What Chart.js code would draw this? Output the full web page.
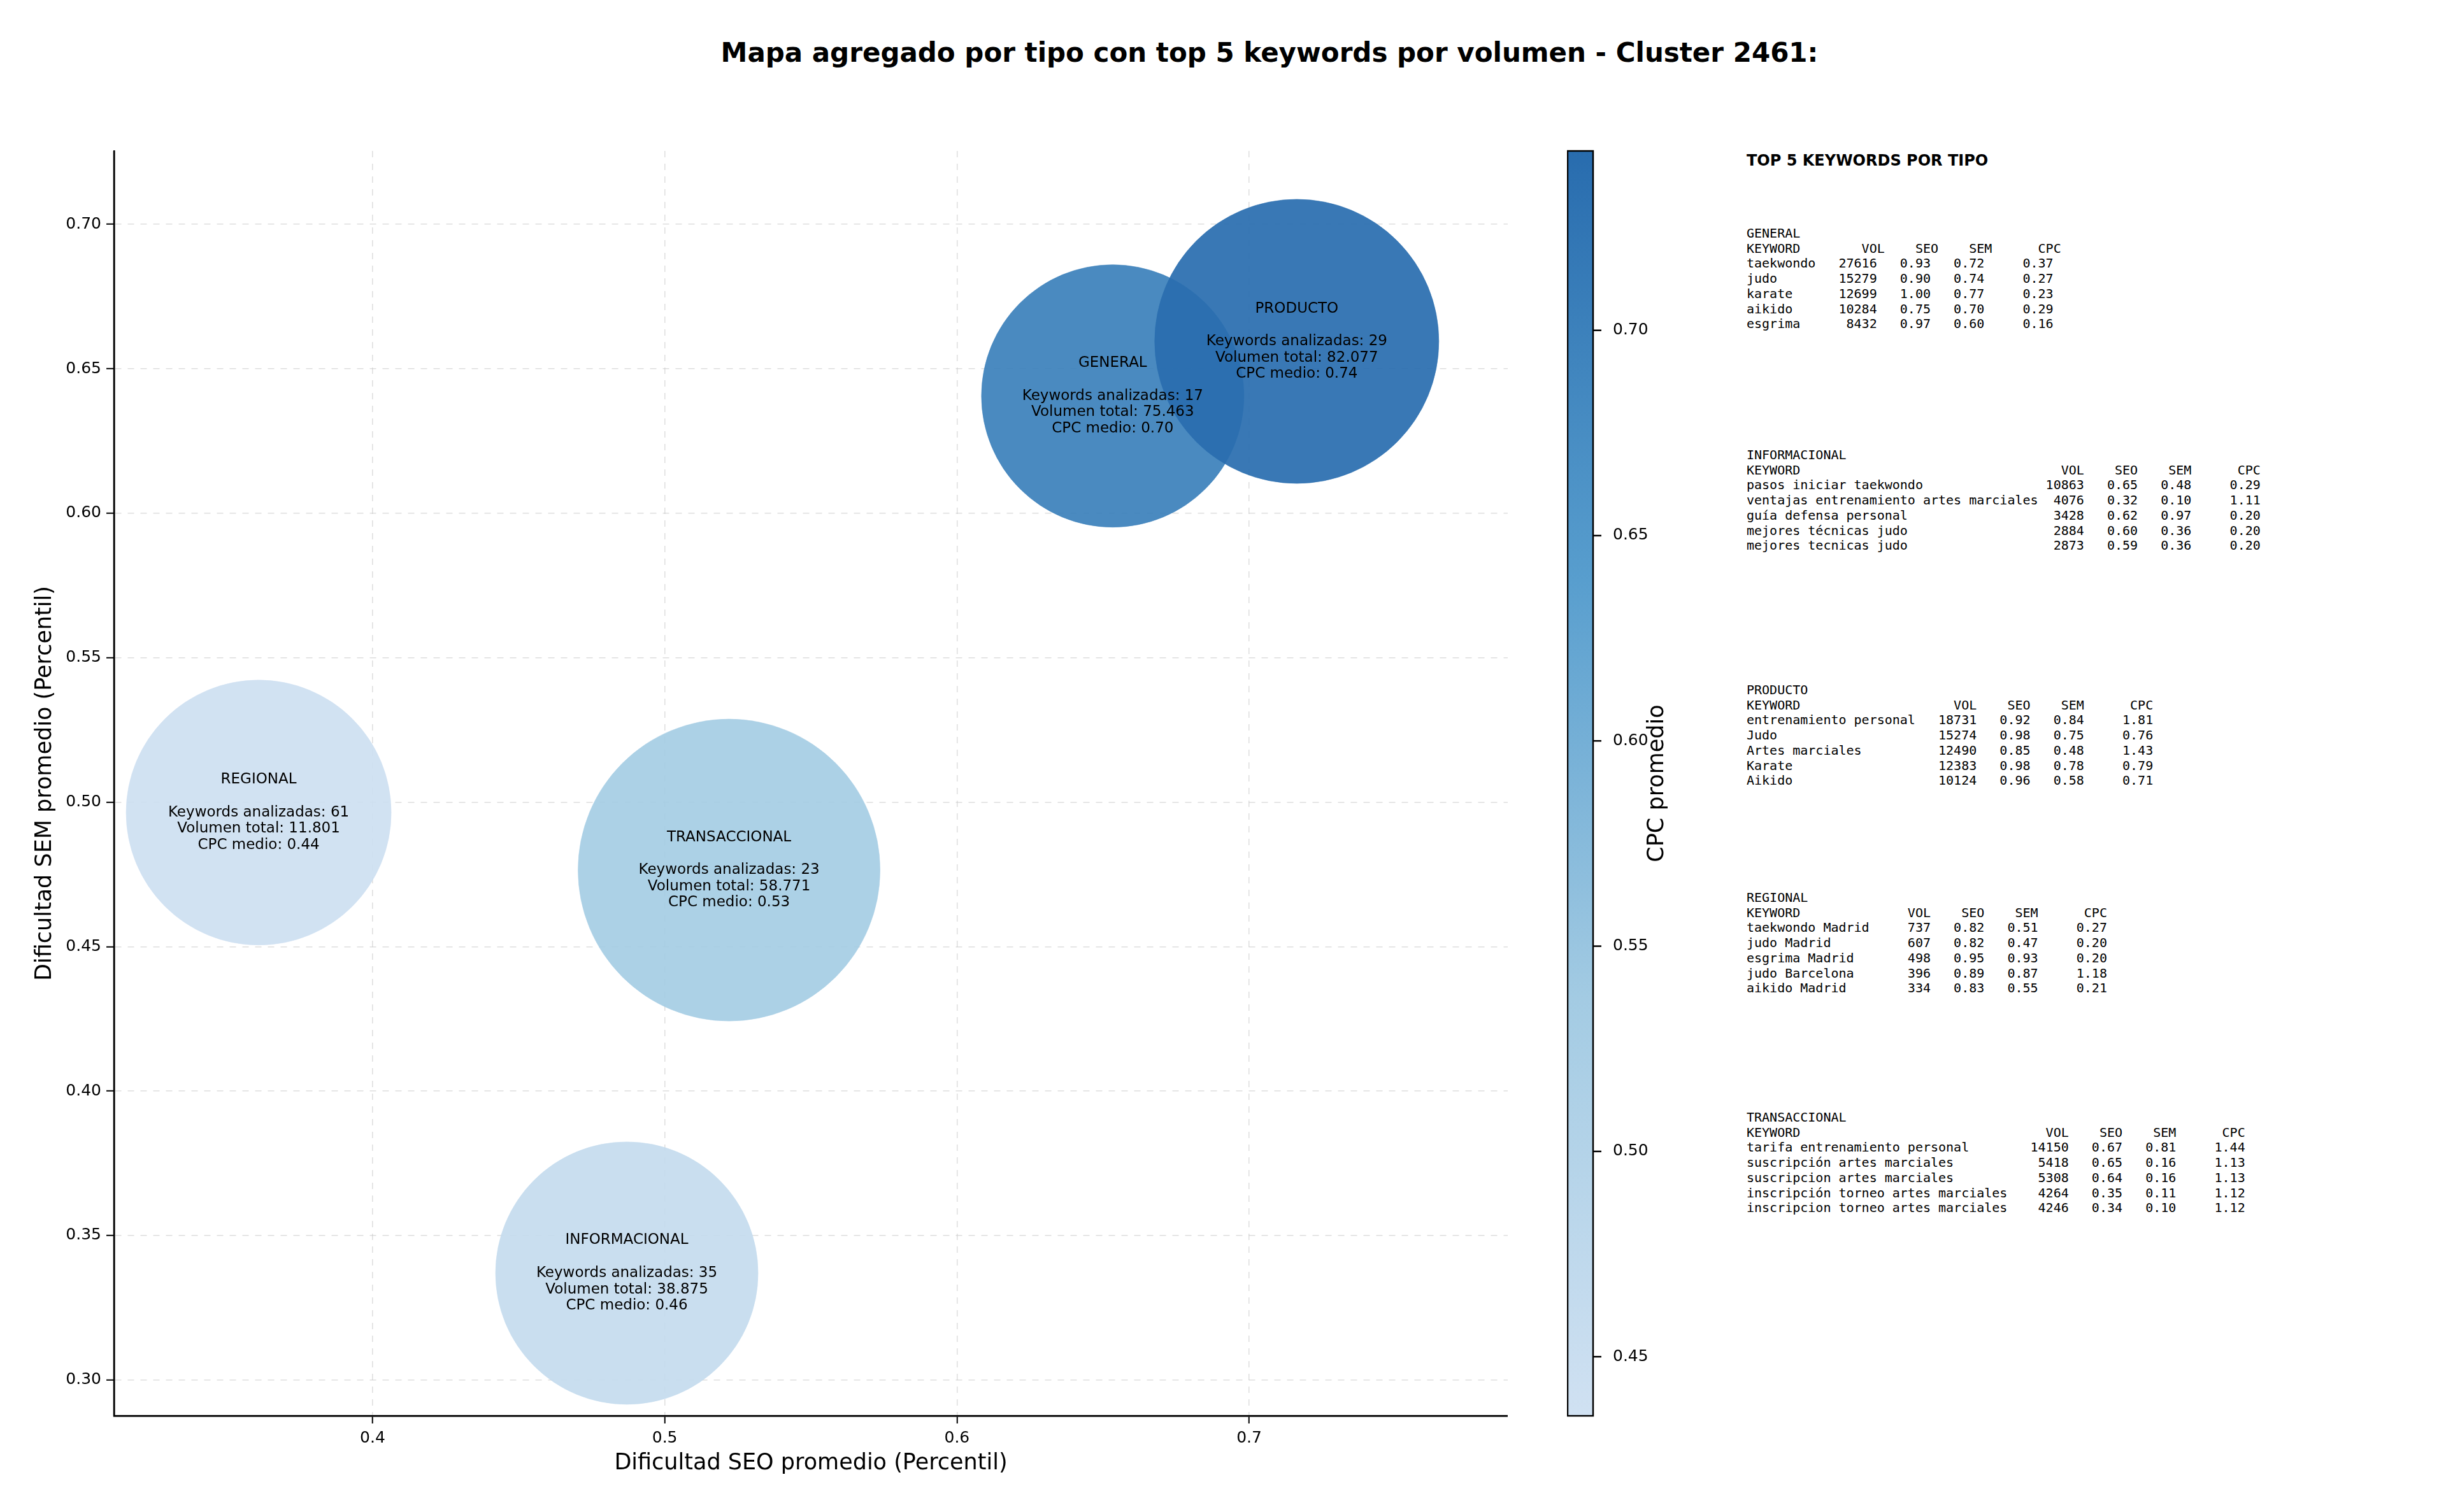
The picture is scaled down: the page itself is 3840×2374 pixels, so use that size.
<!DOCTYPE html>
<html><head><meta charset="utf-8">
<script src="https://cdn.jsdelivr.net/npm/chart.js@4"></script>
<style>
body{margin:0;width:3840px;height:2374px;background:#fff;position:relative;overflow:hidden;font-family:"DejaVu Sans",sans-serif}
#title{position:absolute;top:58px;left:0;width:3986px;text-align:center;font-weight:bold;font-size:42px;color:#000}
pre{position:absolute;margin:0;font-family:"DejaVu Sans Mono",monospace;font-size:20px;line-height:23.7px;color:#000}
#ptitle{position:absolute;left:2742px;top:238px;font-weight:bold;font-size:24px}
</style></head><body>
<div id="title">Mapa agregado por tipo con top 5 keywords por volumen - Cluster 2461:</div>
<canvas id="c1" style="position:absolute;left:0;top:0"></canvas>
<canvas id="c2" style="position:absolute;left:2460px;top:0"></canvas>
<div id="ptitle">TOP 5 KEYWORDS POR TIPO</div>
<div id="panel"></div>
<script>
const tipos=["GENERAL","PRODUCTO","REGIONAL","TRANSACCIONAL","INFORMACIONAL"];
const seo=[0.6533,0.7163,0.361,0.522,0.487];
const sem=[0.6406,0.6595,0.4964,0.4765,0.337];
const radios=[206,223,208,237,206];
const nKeywords=[17,29,61,23,35];
const volumen=["75.463","82.077","11.801","58.771","38.875"];
const cpc=[0.70,0.74,0.44,0.53,0.46];
const cpcMin=0.4356, cpcMax=0.7437;
const xTicks=[0.4,0.5,0.6,0.7];
const yTicks=[0.30,0.35,0.40,0.45,0.50,0.55,0.60,0.65,0.70];
const cbTicks=[0.45,0.50,0.55,0.60,0.65,0.70];
const panelTops=[355,703,1072,1398,1743];
const panelText=[
`GENERAL
KEYWORD        VOL    SEO    SEM      CPC
taekwondo   27616   0.93   0.72     0.37
judo        15279   0.90   0.74     0.27
karate      12699   1.00   0.77     0.23
aikido      10284   0.75   0.70     0.29
esgrima      8432   0.97   0.60     0.16`,
`INFORMACIONAL
KEYWORD                                  VOL    SEO    SEM      CPC
pasos iniciar taekwondo                10863   0.65   0.48     0.29
ventajas entrenamiento artes marciales  4076   0.32   0.10     1.11
guía defensa personal                   3428   0.62   0.97     0.20
mejores técnicas judo                   2884   0.60   0.36     0.20
mejores tecnicas judo                   2873   0.59   0.36     0.20`,
`PRODUCTO
KEYWORD                    VOL    SEO    SEM      CPC
entrenamiento personal   18731   0.92   0.84     1.81
Judo                     15274   0.98   0.75     0.76
Artes marciales          12490   0.85   0.48     1.43
Karate                   12383   0.98   0.78     0.79
Aikido                   10124   0.96   0.58     0.71`,
`REGIONAL
KEYWORD              VOL    SEO    SEM      CPC
taekwondo Madrid     737   0.82   0.51     0.27
judo Madrid          607   0.82   0.47     0.20
esgrima Madrid       498   0.95   0.93     0.20
judo Barcelona       396   0.89   0.87     1.18
aikido Madrid        334   0.83   0.55     0.21`,
`TRANSACCIONAL
KEYWORD                                VOL    SEO    SEM      CPC
tarifa entrenamiento personal        14150   0.67   0.81     1.44
suscripción artes marciales           5418   0.65   0.16     1.13
suscripcion artes marciales           5308   0.64   0.16     1.13
inscripción torneo artes marciales    4264   0.35   0.11     1.12
inscripcion torneo artes marciales    4246   0.34   0.10     1.12`];

const panel=document.getElementById('panel');
panelText.forEach((t,i)=>{const p=document.createElement('pre');p.textContent=t;p.style.left='2742px';p.style.top=panelTops[i]+'px';panel.appendChild(p);});

const stops=[[0,[208,225,242]],[0.33,[163,203,227]],[0.66,[88,158,206]],[1,[40,108,174]]];
function cmap(v){let t=(v-cpcMin)/(cpcMax-cpcMin);t=Math.max(0,Math.min(1,t));
for(let i=1;i<stops.length;i++){if(t<=stops[i][0]){const a=stops[i-1],b=stops[i];const f=(t-a[0])/(b[0]-a[0]);
return a[1].map((c,k)=>Math.round(c+(b[1][k]-c)*f));}}return stops[stops.length-1][1];}
const rgba=(c,a)=>`rgba(${c[0]},${c[1]},${c[2]},${a})`;

Chart.controllers.bubble.prototype.getMaxOverflow=function(){return 0;};

const labelsPlugin={id:'lbl',afterDatasetsDraw(ch){const ctx=ch.ctx;const meta=ch.getDatasetMeta(0);
ctx.save();ctx.font='23px "DejaVu Sans"';ctx.fillStyle='#000';ctx.textAlign='center';ctx.textBaseline='middle';
meta.data.forEach((pt,i)=>{const lines=[tipos[i],'','Keywords analizadas: '+nKeywords[i],'Volumen total: '+volumen[i],'CPC medio: '+cpc[i].toFixed(2)];
const lh=25.7;const y0=pt.y-lh*2;lines.forEach((l,k)=>ctx.fillText(l,pt.x,y0+k*lh));});ctx.restore();}};

Chart.defaults.font.family='"DejaVu Sans", sans-serif';
Chart.defaults.color='#000';
const c1=document.getElementById('c1');c1.width=2367;c1.height=2374;c1.style.width='2367px';c1.style.height='2374px';
new Chart(c1,{type:'bubble',
data:{datasets:[{data:tipos.map((t,i)=>({x:seo[i],y:sem[i],r:radios[i]})),
backgroundColor:cpc.map(v=>rgba(cmap(v),0.93)),borderColor:cpc.map(v=>rgba(cmap(v),0.6)),borderWidth:1,clip:false}]},
options:{responsive:false,animation:false,devicePixelRatio:1,layout:{padding:{top:237,left:50,right:0,bottom:55}},
plugins:{legend:{display:false},tooltip:{enabled:false}},
scales:{
x:{type:'linear',min:0.3115,max:0.7885,afterBuildTicks:s=>{s.ticks=xTicks.map(v=>({value:v}))},afterFit:s=>{s.height=96},
ticks:{font:{size:25},padding:8,callback:v=>v.toFixed(1)},
grid:{color:'rgba(200,200,200,0.6)',tickColor:'#000',tickLength:12,lineWidth:1.5,tickWidth:2},
border:{color:'#000',width:2.5,dash:[10,10]},
title:{display:true,text:'Dificultad SEO promedio (Percentil)',font:{size:35},padding:{top:6,bottom:0}}},
y:{type:'linear',min:0.2876,max:0.7254,afterBuildTicks:s=>{s.ticks=yTicks.map(v=>({value:v}))},afterFit:s=>{s.width=129},
ticks:{font:{size:25},padding:8,callback:v=>v.toFixed(2)},
grid:{color:'rgba(200,200,200,0.6)',tickColor:'#000',tickLength:12,lineWidth:1.5,tickWidth:2},
border:{color:'#000',width:2.5,dash:[10,10]},
title:{display:true,text:'Dificultad SEM promedio (Percentil)',font:{size:35},padding:{top:0,bottom:4}}}}},
plugins:[labelsPlugin,{id:'solidBorder',afterDraw(ch){const a=ch.chartArea,ctx=ch.ctx;ctx.save();ctx.strokeStyle='#000';ctx.lineWidth=2.5;ctx.beginPath();ctx.moveTo(a.left,a.top);ctx.lineTo(a.left,a.bottom);ctx.lineTo(a.right,a.bottom);ctx.stroke();ctx.restore();}}]});

const c2=document.getElementById('c2');c2.width=242;c2.height=2374;c2.style.width='242px';c2.style.height='2374px';
new Chart(c2,{type:'bar',
data:{labels:['cb'],datasets:[{data:[[cpcMin,cpcMax]],borderWidth:0,barPercentage:1,categoryPercentage:1,
backgroundColor:(ctx)=>{const ch=ctx.chart,a=ch.chartArea;if(!a)return '#fff';const g=ch.ctx.createLinearGradient(0,a.bottom,0,a.top);
stops.forEach(s=>g.addColorStop(s[0],rgba(s[1],1)));return g;}}]},
options:{responsive:false,animation:false,devicePixelRatio:1,layout:{padding:{top:237,bottom:151,left:0,right:0}},
plugins:{legend:{display:false},tooltip:{enabled:false}},
scales:{x:{display:false},
y:{position:'right',min:cpcMin,max:cpcMax,afterBuildTicks:s=>{s.ticks=cbTicks.map(v=>({value:v}))},afterFit:s=>{s.width=200},
ticks:{font:{size:25},padding:18,callback:v=>v.toFixed(2)},grid:{display:false,drawOnChartArea:false,tickLength:12},
border:{display:false},title:{display:false}}}},
plugins:[{id:'frame',afterDraw(ch){const a=ch.chartArea,ctx=ch.ctx;ctx.save();ctx.strokeStyle='#000';ctx.lineWidth=2.5;ctx.strokeRect(a.left+1,a.top,a.right-a.left-2,a.bottom-a.top);
const y=ch.scales.y;cbTicks.forEach(v=>{const py=y.getPixelForValue(v);ctx.beginPath();ctx.moveTo(a.right,py);ctx.lineTo(a.right+12,py);ctx.stroke();});
ctx.translate(142,(a.top+a.bottom)/2);ctx.rotate(-Math.PI/2);ctx.font='35px "DejaVu Sans"';ctx.fillStyle='#000';ctx.textAlign='center';ctx.textBaseline='middle';ctx.fillText('CPC promedio',0,0);ctx.restore();}}]});
</script></body></html>
